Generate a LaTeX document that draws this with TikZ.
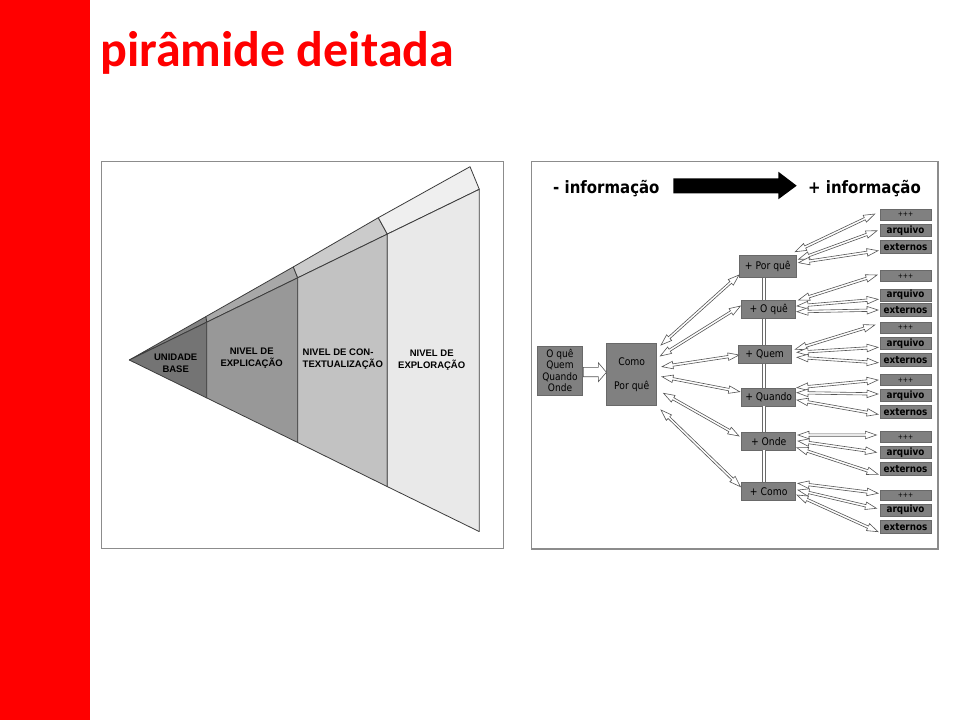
\documentclass[tikz,border=0pt]{standalone}
\usepackage{fontspec}
\setmainfont{DejaVu Sans}
\newfontfamily\titlefont{Carlito}
\newfontfamily\pyrfont{Liberation Sans}
\newfontfamily\tah[FakeStretch=0.88]{DejaVu Sans}
\usetikzlibrary{calc}
\definecolor{titlered}{RGB}{255,0,0}
\definecolor{panelline}{RGB}{140,140,140}
\definecolor{pyrline}{RGB}{60,60,60}
\definecolor{face1}{RGB}{116,116,116}
\definecolor{face2}{RGB}{152,152,152}
\definecolor{face3}{RGB}{194,194,194}
\definecolor{face4}{RGB}{233,233,233}
\definecolor{strip1}{RGB}{130,130,130}
\definecolor{strip2}{RGB}{168,168,168}
\definecolor{strip3}{RGB}{203,203,203}
\definecolor{strip4}{RGB}{239,239,239}
\definecolor{boxgray}{RGB}{128,128,128}
\definecolor{boxline}{RGB}{105,105,105}
\definecolor{arrline}{RGB}{85,85,85}
\def\ahl{11pt}
\def\ahw{3.8pt}
\def\asw{1.2pt}
\newcommand\harrow[4]{%
  \coordinate (hA) at ($(#1)+(#2)$);
  \coordinate (hB) at ($(#3)+(#4)$);
  \draw[harr] (hA) -- ($(hA)!\ahl!(hB)!\ahw!90:(hB)$) -- ($(hA)!\ahl!(hB)!\asw!90:(hB)$)
    -- ($(hB)!\ahl!(hA)!\asw!-90:(hA)$) -- ($(hB)!\ahl!(hA)!\ahw!-90:(hA)$) -- (hB)
    -- ($(hB)!\ahl!(hA)!\ahw!90:(hA)$) -- ($(hB)!\ahl!(hA)!\asw!90:(hA)$)
    -- ($(hA)!\ahl!(hB)!\asw!-90:(hB)$) -- ($(hA)!\ahl!(hB)!\ahw!-90:(hB)$) -- cycle;}
\begin{document}
\begin{tikzpicture}[x=1pt,y=-1pt,
  panel/.style={draw=panelline, line width=1.2pt},
  pyrpart/.style={draw=pyrline, line width=0.8pt, line join=round},
  pyr/.style={font=\pyrfont\bfseries\fontsize{9.5}{12}\selectfont, align=center, inner sep=0pt},
  mbox/.style={draw=boxline, fill=boxgray, line width=0.6pt, inner sep=0pt, font=\tah\fontsize{10.5}{12}\selectfont},
  sbox/.style={draw=boxline, fill=boxgray, line width=0.6pt, inner sep=0pt, minimum width=51pt, font=\tah\bfseries\fontsize{10}{11}\selectfont},
  pbox/.style={sbox, minimum height=10.5pt, font=\tah\fontsize{7}{8}\selectfont},
  abox/.style={sbox, minimum height=11.8pt},
  ebox/.style={sbox, minimum height=13pt},
  harr/.style={draw=arrline, fill=white, line width=0.6pt, line join=miter},
  vline/.style={draw=boxline, double=white, double distance=2.4pt, line width=0.8pt},
  heading/.style={font=\tah\bfseries\fontsize{17}{20}\selectfont, inner sep=0pt, anchor=base west}]
\useasboundingbox (0,0) rectangle (960,720);
\fill[white] (0,0) rectangle (960,720);
\fill[titlered] (0,0) rectangle (90,720);
\node[anchor=base west, inner sep=0pt, text=titlered, font=\titlefont\bfseries\fontsize{50}{54}\selectfont] (title) at (100,66.7) {pirâmide deitada};

% ---------- left panel: lying pyramid ----------
\draw[panel] (101.5,161.5) rectangle (503.5,548.5);
\coordinate (A) at (129.3,360);
\coordinate (d1i) at (206.7,322.2); \coordinate (d1o) at (206,316.5); \coordinate (d1b) at (206.7,397.9);
\coordinate (d2i) at (297.7,277.8); \coordinate (d2o) at (293.3,266.9); \coordinate (d2b) at (297.7,442.5);
\coordinate (d3i) at (387.3,234.1); \coordinate (d3o) at (378.3,217.7); \coordinate (d3b) at (387.3,486.6);
\coordinate (d4i) at (479.3,189.3); \coordinate (d4o) at (470,166.7); \coordinate (d4b) at (479.3,531.6);
\draw[pyrpart, fill=strip1] (A) -- (d1o) -- (d1i) -- cycle;
\draw[pyrpart, fill=strip2] (d1o) -- (d2o) -- (d2i) -- (d1i) -- cycle;
\draw[pyrpart, fill=strip3] (d2o) -- (d3o) -- (d3i) -- (d2i) -- cycle;
\draw[pyrpart, fill=strip4] (d3o) -- (d4o) -- (d4i) -- (d3i) -- cycle;
\draw[pyrpart, fill=face1] (A) -- (d1i) -- (d1b) -- cycle;
\draw[pyrpart, fill=face2] (d1i) -- (d2i) -- (d2b) -- (d1b) -- cycle;
\draw[pyrpart, fill=face3] (d2i) -- (d3i) -- (d3b) -- (d2b) -- cycle;
\draw[pyrpart, fill=face4] (d3i) -- (d4i) -- (d4b) -- (d3b) -- cycle;
\node[pyr] (lu) at (175.7,363) {UNIDADE\\BASE};
\node[pyr] (le) at (251.7,358.5) {NIVEL DE\\EXPLICAÇÃO};
\node[pyr, align=left, anchor=west] (lc) at (302.5,359.2) {NIVEL DE CON-\\TEXTUALIZAÇÃO};
\node[pyr] (lx) at (431.7,360.3) {NIVEL DE\\EXPLORAÇÃO};

% ---------- right panel ----------
\draw[panel] (531.5,161.5) rectangle (938,549);
\node[heading] (minus) at (553,193.3) {- informação};
\node[heading] (plus) at (808,193.3) {+ informação};
\fill[black] (673.3,178.3) -- (778.3,178.3) -- (778.3,171.7) -- (796.7,185.7) -- (778.3,199.3) -- (778.3,193.3) -- (673.3,193.3) -- cycle;

\node[mbox, minimum width=45.4pt, minimum height=49pt, align=center, font=\tah\fontsize{10.3}{11.6}\selectfont] (oq) at (560,370.5) {O quê\\Quem\\Quando\\Onde};
\node[mbox, minimum width=50pt, minimum height=61.7pt, align=center] (como) at (631.7,374.2) {Como\\[12pt]Por quê};

\node[mbox, minimum width=57.7pt, minimum height=21.6pt] (pq) at (767.8,266.5) {+ Por quê};
\node[mbox, minimum width=54pt, minimum height=18.3pt] (oqu) at (768.7,309.2) {+ O quê};
\node[mbox, minimum width=52.7pt, minimum height=18.3pt] (qm) at (764.7,354.2) {+ Quem};
\node[mbox, minimum width=54pt, minimum height=17.7pt] (qd) at (768.7,397.2) {+ Quando};
\node[mbox, minimum width=54pt, minimum height=17.3pt] (od) at (768.7,441.3) {+ Onde};
\node[mbox, minimum width=54pt, minimum height=18.4pt] (cm) at (768.7,491.5) {+ Como};

\coordinate (vx) at (764,0);
\draw[vline] (pq.south -| vx) -- (oqu.north -| vx);
\draw[vline] (oqu.south -| vx) -- (qm.north -| vx);
\draw[vline] (qm.south -| vx) -- (qd.north -| vx);
\draw[vline] (qd.south -| vx) -- (od.north -| vx);
\draw[vline] (od.south -| vx) -- (cm.north -| vx);

\node[pbox] (p1) at (905.5,214.7) {+++};
\node[abox] (a1) at (905.5,230.5) {arquivo};
\node[ebox] (e1) at (905.5,247) {externos};
\node[pbox] (p2) at (905.5,275.9) {+++};
\node[abox] (a2) at (905.5,295.2) {arquivo};
\node[ebox] (e2) at (905.5,310) {externos};
\node[pbox] (p3) at (905.5,327.7) {+++};
\node[abox] (a3) at (905.5,343.3) {arquivo};
\node[ebox] (e3) at (905.5,359.7) {externos};
\node[pbox] (p4) at (905.5,380) {+++};
\node[abox] (a4) at (905.5,395.5) {arquivo};
\node[ebox] (e4) at (905.5,411.7) {externos};
\node[pbox] (p5) at (905.5,437) {+++};
\node[abox] (a5) at (905.5,452.5) {arquivo};
\node[ebox] (e5) at (905.5,469) {externos};
\node[pbox] (p6) at (905.5,495.3) {+++};
\node[abox] (a6) at (905.5,510.2) {arquivo};
\node[ebox] (e6) at (905.5,526.7) {externos};

% fat arrow O quê -> Como
\draw[harr] ($(oq.east)+(0.3,-3.2)$) -- ++(15,0) -- ++(0,-4.6) -- ($(como.west)+(0,-1.9)$)
  -- ($(oq.east)+(15.3,11.2)$) -- ++(0,-5) -- ++(-15,0) -- cycle;

% Como -> middle column
\harrow{como.east}{4,-29.2}{pq.west}{0.3,8.5}
\harrow{como.east}{3.3,-18.2}{oqu.west}{-1,-3.2}
\harrow{como.east}{5,-7.5}{qm.west}{1,0.8}
\harrow{como.east}{5,2.5}{qd.west}{-1.7,-5.5}
\harrow{como.east}{6.6,19.1}{od.west}{-2.4,-5.3}
\harrow{como.east}{4,35.8}{cm.west}{-1,-4.8}

% middle -> right column
\harrow{pq.east}{-1.7,-14.8}{p1.west}{-5,-0.7}
\harrow{pq.east}{1.6,-7.2}{a1.west}{-2.7,0.2}
\harrow{pq.east}{1.6,-3.8}{e1.west}{-1.7,3.7}
\harrow{oqu.east}{2.6,-9.2}{p2.west}{-2.7,-0.9}
\harrow{oqu.east}{1,-3.2}{a2.west}{-1.7,4.1}
\harrow{oqu.east}{1,2.5}{e2.west}{-1.7,0}
\harrow{qm.east}{4,-4.9}{p3.west}{-5,-2.7}
\harrow{qm.east}{5.7,-1.9}{a3.west}{-1.7,4}
\harrow{qm.east}{5.7,3.1}{e3.west}{-1.7,3}
\harrow{qd.east}{1,-9.5}{p4.west}{-1.7,0}
\harrow{qd.east}{1,-4.5}{a4.west}{-1.7,-1.5}
\harrow{qd.east}{1,2.8}{e4.west}{-1.7,2.6}
\harrow{od.east}{2,-6.3}{p5.west}{-3.3,-2}
\harrow{od.east}{2,-0.3}{a5.west}{-3.3,-0.2}
\harrow{od.east}{1,6.4}{e5.west}{-1.7,5.3}
\harrow{cm.east}{2,-8.2}{p6.west}{-1.7,-2}
\harrow{cm.east}{2,-1.5}{a6.west}{-3.3,-1.9}
\harrow{cm.east}{1,3.5}{e6.west}{-1.7,5}
\end{tikzpicture}
\end{document}
